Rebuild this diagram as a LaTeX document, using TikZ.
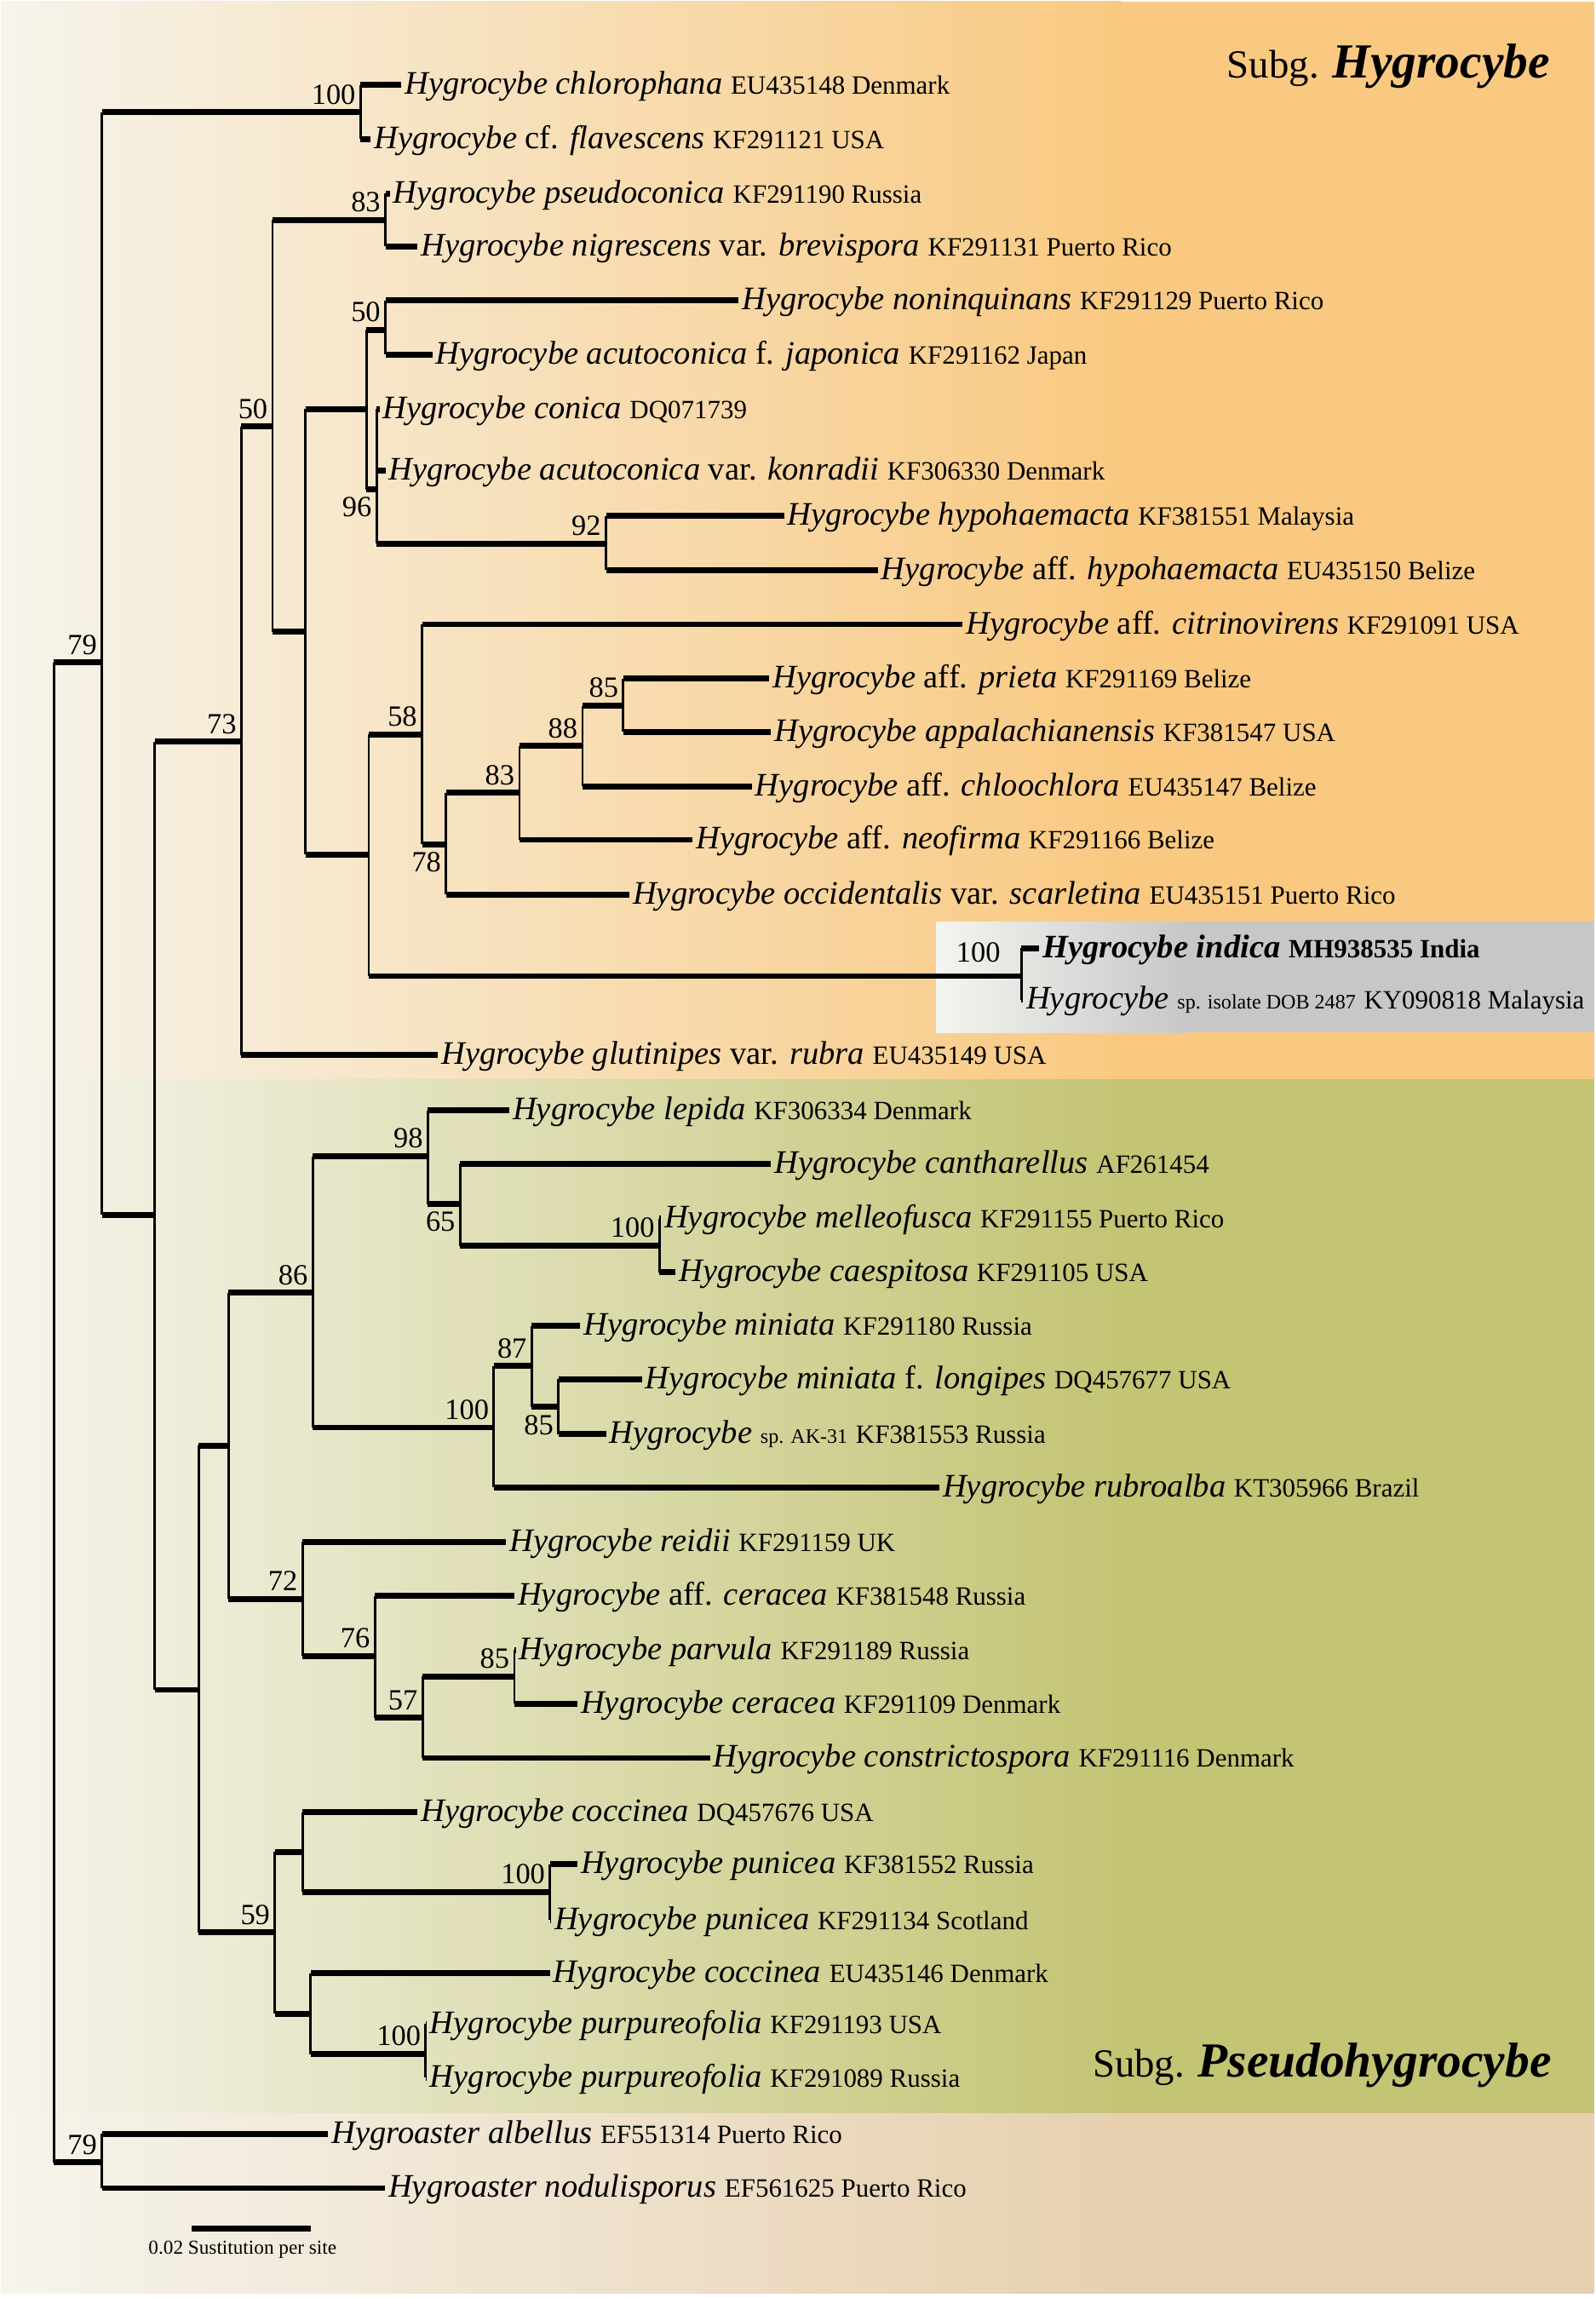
\documentclass[tikz,border=0pt]{standalone}
\usepackage{fontspec}
\setmainfont{Liberation Serif}
\usetikzlibrary{calc}
\definecolor{creamL}{HTML}{F6F4EC}
\definecolor{orangeR}{HTML}{F9C981}
\definecolor{oliveR}{HTML}{C3C474}
\definecolor{tanR}{HTML}{E7D0AF}
\definecolor{greyL}{HTML}{F4F4F0}
\definecolor{greyR}{HTML}{C7C7C7}
\newcommand{\accno}[1]{{\fontsize{9}{10}\selectfont\upshape #1}}
\newcommand{\smallsp}[1]{{\fontsize{7}{8}\selectfont\upshape #1}}

\begin{document}
\begin{tikzpicture}[x=0.5pt,y=-0.5pt,
  hbr/.style={line width=2pt},
  vbr/.style={line width=0.8pt},
  leaf/.style={anchor=base west,inner sep=1pt,yshift=-3.2pt,font=\fontsize{11.2}{13}\selectfont},
  bs/.style={anchor=south east,inner xsep=1.5pt,inner ysep=2.5pt,font=\fontsize{10}{12}\selectfont},
  bsb/.style={anchor=north east,inner xsep=1.5pt,inner ysep=2.5pt,font=\fontsize{10}{12}\selectfont}]
\useasboundingbox (0,0) rectangle (1089,1568);
% backgrounds
\fill[white] (0,0) rectangle (1089,1568);
\shade[left color=creamL,right color=orangeR] (1,1) rectangle (765,736.5);
\fill[orangeR] (764,1) rectangle (1088,736.5);
\shade[left color=creamL,right color=oliveR] (1,736.5) rectangle (765,1442);
\fill[oliveR] (764,736.5) rectangle (1088,1442);
\shade[left color=creamL,right color=tanR] (1,1442) rectangle (765,1565);
\fill[tanR] (764,1442) rectangle (1088,1565);
\shade[left color=greyL,right color=greyR] (639,629) rectangle (810,704.5);
\fill[greyR] (809,629) rectangle (1088,704.5);

% inner nodes
\coordinate[] (A) at (36.8,963);
\coordinate[] (B) at (69.5,452);
\coordinate[] (C) at (246,76.6);
\coordinate[] (D) at (105.6,829);
\coordinate[] (E) at (164.7,506);
\coordinate[] (F) at (186,291);
\coordinate[] (G) at (263,150);
\coordinate[] (H) at (208.5,431);
\coordinate[] (I) at (250,279);
\coordinate[] (J) at (263,225);
\coordinate[] (K) at (257,334);
\coordinate[] (L) at (413.5,371);
\coordinate[] (M) at (251.6,583);
\coordinate[] (N) at (288,501);
\coordinate[] (O) at (304.4,576);
\coordinate[] (P) at (354.5,541);
\coordinate[] (Q) at (397.5,509);
\coordinate[] (R) at (425.3,481.5);
\coordinate[] (S) at (697,666);
\coordinate[] (T) at (135.5,1153);
\coordinate[] (U) at (156,986.5);
\coordinate[] (V) at (213.4,882);
\coordinate[] (W) at (292,789);
\coordinate[] (X) at (314,821.7);
\coordinate[] (Y) at (450,850);
\coordinate[] (Z) at (337,974);
\coordinate[] (A1) at (362.8,932);
\coordinate[] (B1) at (381,960);
\coordinate[] (C1) at (206.4,1091);
\coordinate[] (D1) at (255.8,1130);
\coordinate[] (E1) at (288.4,1172);
\coordinate[] (F1) at (351,1144);
\coordinate[] (G1) at (187.6,1318.6);
\coordinate[] (H1) at (206.4,1263.5);
\coordinate[] (I1) at (375.3,1291);
\coordinate[] (J1) at (212,1374);
\coordinate[] (K1) at (290.5,1401.5);
\coordinate[] (L1) at (69.5,1475.5);

% tips
\coordinate[] (chl) at (274,58);
\coordinate[] (fla) at (253,95);
\coordinate[] (pse) at (266,132);
\coordinate[] (nig) at (285,168);
\coordinate[] (non) at (504,205);
\coordinate[] (jap) at (295,242);
\coordinate[] (con) at (259,279);
\coordinate[] (kon) at (263,321);
\coordinate[] (hyp) at (535,352);
\coordinate[] (ahy) at (599,389);
\coordinate[] (cit) at (657,426);
\coordinate[] (pri) at (525,463);
\coordinate[] (app) at (526,499.5);
\coordinate[] (chc) at (513,536.5);
\coordinate[] (neo) at (472.6,573);
\coordinate[] (occ) at (429.5,610.5);
\coordinate[] (ind) at (709,647);
\coordinate[] (iso) at (698,682);
\coordinate[] (glu) at (299,720);
\coordinate[] (lep) at (347.5,757.6);
\coordinate[] (can) at (526,794);
\coordinate[] (mel) at (451,831.5);
\coordinate[] (cae) at (461,868);
\coordinate[] (min) at (396,904.7);
\coordinate[] (lon) at (438,941);
\coordinate[] (akt) at (413.5,978.5);
\coordinate[] (rub) at (641,1015);
\coordinate[] (rei) at (345.4,1052);
\coordinate[] (ace) at (351,1089);
\coordinate[] (par) at (352,1126);
\coordinate[] (cer) at (394,1162.5);
\coordinate[] (cns) at (484.4,1199.5);
\coordinate[] (ccd) at (285,1236.5);
\coordinate[] (pur) at (394,1272);
\coordinate[] (pus) at (376,1310);
\coordinate[] (cce) at (375.3,1346.5);
\coordinate[] (ppu) at (291,1381);
\coordinate[] (ppr) at (291,1417.5);
\coordinate[] (alb) at (224,1456);
\coordinate[] (nod) at (262.7,1493);

% vertical lines
\foreach \p/\t/\b in {A/B/L1, B/C/D, C/chl/fla, D/E/T, E/F/glu, F/G/H, G/pse/nig,
  H/I/M, I/J/K, J/non/jap, K/con/L, L/hyp/ahy, M/N/S, N/cit/O, O/P/occ, P/Q/neo,
  Q/R/chc, R/pri/app, S/ind/iso, T/U/G1, U/V/C1, V/W/Z, W/lep/X, X/can/Y, Y/mel/cae,
  Z/A1/rub, A1/min/B1, B1/lon/akt, C1/rei/D1, D1/ace/E1, E1/F1/cns, F1/par/cer,
  G1/H1/J1, H1/ccd/I1, I1/pur/pus, J1/cce/K1, K1/ppu/ppr, L1/alb/nod}
  \draw[vbr] (\p |- \t) -- (\p |- \b);

% horizontal branches
\foreach \p/\c in {A/B, B/C, C/chl, C/fla, B/D, D/E, E/F, F/G, G/pse, G/nig, F/H,
  H/I, I/J, J/non, J/jap, I/K, K/con, K/kon, K/L, L/hyp, L/ahy, H/M, M/N, N/cit,
  N/O, O/P, P/Q, Q/R, R/pri, R/app, Q/chc, P/neo, O/occ, M/S, S/ind, S/iso, E/glu,
  D/T, T/U, U/V, V/W, W/lep, W/X, X/can, X/Y, Y/mel, Y/cae, V/Z, Z/A1, A1/min,
  A1/B1, B1/lon, B1/akt, Z/rub, U/C1, C1/rei, C1/D1, D1/ace, D1/E1, E1/F1, F1/par,
  F1/cer, E1/cns, T/G1, G1/H1, H1/ccd, H1/I1, I1/pur, I1/pus, G1/J1, J1/cce,
  J1/K1, K1/ppu, K1/ppr, A/L1, L1/alb, L1/nod}
  \draw[hbr] (\p |- \c) -- (\c);

% support values
\node[bs] (bB) at (B) {79};
\node[bs] (bC) at (C) {100};
\node[bs] (bE) at (E) {73};
\node[bs] (bF) at (F) {50};
\node[bs] (bG) at (G) {83};
\node[bs] (bJ) at (J) {50};
\node[bsb] (bK) at (K) {96};
\node[bs] (bL) at (L) {92};
\node[bs] (bN) at (N) {58};
\node[bsb] (bO) at (O) {78};
\node[bs] (bP) at (P) {83};
\node[bs] (bQ) at (Q) {88};
\node[bs] (bR) at (R) {85};
\node[bs,xshift=-5.5pt,yshift=2pt] (bS) at (S) {100};
\node[bs] (bV) at (V) {86};
\node[bs] (bW) at (W) {98};
\node[bsb] (bX) at (X) {65};
\node[bs] (bY) at (Y) {100};
\node[bs] (bZ) at (Z) {100};
\node[bs] (bA1) at (A1) {87};
\node[bsb] (bB1) at (B1) {85};
\node[bs] (bC1) at (C1) {72};
\node[bs] (bD1) at (D1) {76};
\node[bs] (bE1) at (E1) {57};
\node[bs] (bF1) at (F1) {85};
\node[bs] (bG1) at (G1) {59};
\node[bs] (bI1) at (I1) {100};
\node[bs] (bK1) at (K1) {100};
\node[bs] (bL1) at (L1) {79};

% taxa
\node[leaf] (tchl) at (chl) {\textit{Hygrocybe chlorophana} \accno{EU435148 Denmark}};
\node[leaf] (tfla) at (fla) {\textit{Hygrocybe} cf. \textit{flavescens} \accno{KF291121 USA}};
\node[leaf] (tpse) at (pse) {\textit{Hygrocybe pseudoconica} \accno{KF291190 Russia}};
\node[leaf] (tnig) at (nig) {\textit{Hygrocybe nigrescens} var. \textit{brevispora} \accno{KF291131 Puerto Rico}};
\node[leaf] (tnon) at (non) {\textit{Hygrocybe noninquinans} \accno{KF291129 Puerto Rico}};
\node[leaf] (tjap) at (jap) {\textit{Hygrocybe acutoconica} f. \textit{japonica} \accno{KF291162 Japan}};
\node[leaf] (tcon) at (con) {\textit{Hygrocybe conica} \accno{DQ071739}};
\node[leaf] (tkon) at (kon) {\textit{Hygrocybe acutoconica} var. \textit{konradii} \accno{KF306330 Denmark}};
\node[leaf] (thyp) at (hyp) {\textit{Hygrocybe hypohaemacta} \accno{KF381551 Malaysia}};
\node[leaf] (tahy) at (ahy) {\textit{Hygrocybe} aff. \textit{hypohaemacta} \accno{EU435150 Belize}};
\node[leaf] (tcit) at (cit) {\textit{Hygrocybe} aff. \textit{citrinovirens} \accno{KF291091 USA}};
\node[leaf] (tpri) at (pri) {\textit{Hygrocybe} aff. \textit{prieta} \accno{KF291169 Belize}};
\node[leaf] (tapp) at (app) {\textit{Hygrocybe appalachianensis} \accno{KF381547 USA}};
\node[leaf] (tchc) at (chc) {\textit{Hygrocybe} aff. \textit{chloochlora} \accno{EU435147 Belize}};
\node[leaf] (tneo) at (neo) {\textit{Hygrocybe} aff. \textit{neofirma} \accno{KF291166 Belize}};
\node[leaf] (tocc) at (occ) {\textit{Hygrocybe occidentalis} var. \textit{scarletina} \accno{EU435151 Puerto Rico}};
\node[leaf] (tind) at (ind) {\bfseries\textit{Hygrocybe indica} \accno{MH938535 India}};
\node[leaf] (tiso) at (iso) {\textit{Hygrocybe} \smallsp{sp. isolate DOB 2487} \accno{KY090818 Malaysia}};
\node[leaf] (tglu) at (glu) {\textit{Hygrocybe glutinipes} var. \textit{rubra} \accno{EU435149 USA}};
\node[leaf] (tlep) at (lep) {\textit{Hygrocybe lepida} \accno{KF306334 Denmark}};
\node[leaf] (tcan) at (can) {\textit{Hygrocybe cantharellus} \accno{AF261454}};
\node[leaf] (tmel) at (mel) {\textit{Hygrocybe melleofusca} \accno{KF291155 Puerto Rico}};
\node[leaf] (tcae) at (cae) {\textit{Hygrocybe caespitosa} \accno{KF291105 USA}};
\node[leaf] (tmin) at (min) {\textit{Hygrocybe miniata} \accno{KF291180 Russia}};
\node[leaf] (tlon) at (lon) {\textit{Hygrocybe miniata} f. \textit{longipes} \accno{DQ457677 USA}};
\node[leaf] (takt) at (akt) {\textit{Hygrocybe} \smallsp{sp. AK-31} \accno{KF381553 Russia}};
\node[leaf] (trub) at (rub) {\textit{Hygrocybe rubroalba} \accno{KT305966 Brazil}};
\node[leaf] (trei) at (rei) {\textit{Hygrocybe reidii} \accno{KF291159 UK}};
\node[leaf] (tace) at (ace) {\textit{Hygrocybe} aff. \textit{ceracea} \accno{KF381548 Russia}};
\node[leaf] (tpar) at (par) {\textit{Hygrocybe parvula} \accno{KF291189 Russia}};
\node[leaf] (tcer) at (cer) {\textit{Hygrocybe ceracea} \accno{KF291109 Denmark}};
\node[leaf] (tcns) at (cns) {\textit{Hygrocybe constrictospora} \accno{KF291116 Denmark}};
\node[leaf] (tccd) at (ccd) {\textit{Hygrocybe coccinea} \accno{DQ457676 USA}};
\node[leaf] (tpur) at (pur) {\textit{Hygrocybe punicea} \accno{KF381552 Russia}};
\node[leaf] (tpus) at (pus) {\textit{Hygrocybe punicea} \accno{KF291134 Scotland}};
\node[leaf] (tcce) at (cce) {\textit{Hygrocybe coccinea} \accno{EU435146 Denmark}};
\node[leaf] (tppu) at (ppu) {\textit{Hygrocybe purpureofolia} \accno{KF291193 USA}};
\node[leaf] (tppr) at (ppr) {\textit{Hygrocybe purpureofolia} \accno{KF291089 Russia}};
\node[leaf] (talb) at (alb) {\textit{Hygroaster albellus} \accno{EF551314 Puerto Rico}};
\node[leaf] (tnod) at (nod) {\textit{Hygroaster nodulisporus} \accno{EF561625 Puerto Rico}};

% subgenera
\node[anchor=base east,inner sep=0pt] (subA) at (1058,53)
  {\fontsize{13.6}{16}\selectfont Subg. {\fontsize{16.7}{20}\selectfont\bfseries\itshape Hygrocybe}};
\node[anchor=base east,inner sep=0pt] (subB) at (1059,1417)
  {\fontsize{13.6}{16}\selectfont Subg. {\fontsize{16.7}{20}\selectfont\bfseries\itshape Pseudohygrocybe}};

% scale bar
\coordinate[] (sb1) at (130.7,1520.5);
\coordinate[] (sb2) at (212,1520.5);
\draw[hbr] (sb1) -- (sb2);
\node[anchor=base west,inner sep=0pt] (sbt) at (101,1538)
  {\fontsize{6.75}{8}\selectfont 0.02 Sustitution per site};
\end{tikzpicture}
\end{document}
